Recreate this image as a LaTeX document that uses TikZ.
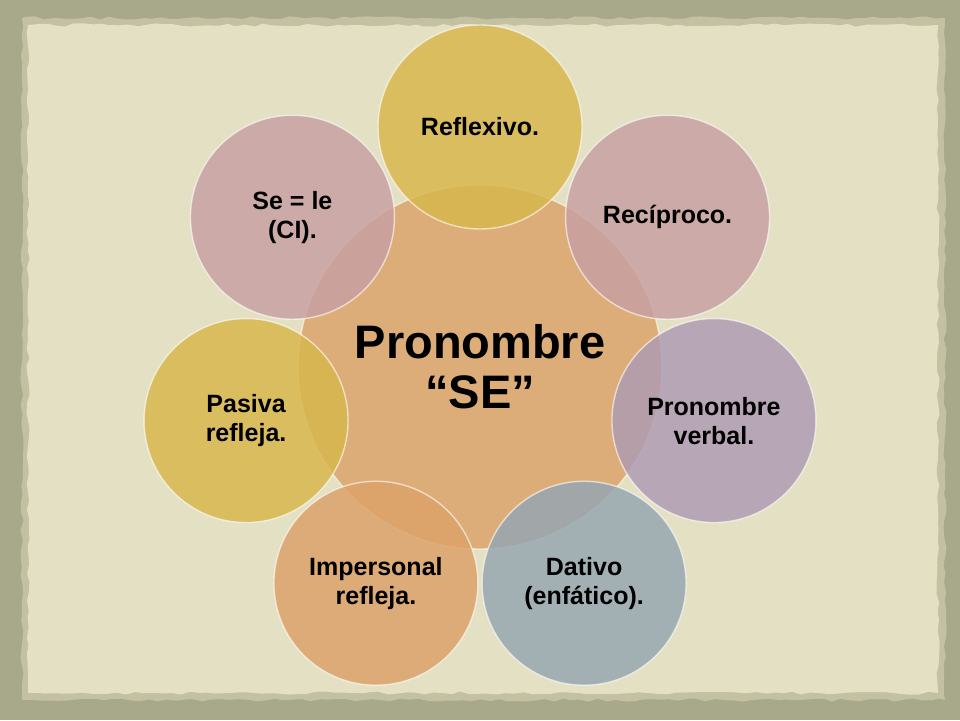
\documentclass[tikz,border=0pt]{standalone}
\usepackage{fontspec}
\setmainfont{Liberation Sans}
\usetikzlibrary{decorations.pathmorphing}

\definecolor{frame}{HTML}{A8A88A}
\definecolor{paper}{HTML}{E3E0C3}
\definecolor{edgeshade}{HTML}{C3C1A2}
\definecolor{coreorange}{HTML}{DCA46C}
\definecolor{gold}{HTML}{D8B74C}
\definecolor{rose}{HTML}{C8A0A2}
\definecolor{lilac}{HTML}{AF9CB3}
\definecolor{slate}{HTML}{96A7B2}
\definecolor{apricot}{HTML}{DCA269}

\begin{document}
\begin{tikzpicture}[x=1pt, y=1pt,
    bubble/.style={circle, minimum size=204pt, inner sep=0pt, align=center,
      fill opacity=0.84, text opacity=1, draw=white, draw opacity=0.6,
      line width=1.4pt, font=\bfseries\fontsize{25}{29}\selectfont},
    hub/.style={bubble, minimum size=364pt, fill=coreorange,
      font=\bfseries\fontsize{47}{50}\selectfont},
    torn/.style={decorate, decoration={random steps, segment length=9pt, amplitude=1.6pt}}
  ]
  \pgfmathsetseed{11}
  % paper on the board
  \fill[frame] (0,0) rectangle (960,720);
  \fill[edgeshade, torn] (22,20) -- (945,20) -- (945,702) -- (22,702) -- cycle;
  \fill[paper, torn] (28,27) -- (938,27) -- (938,695) -- (28,695) -- cycle;
  % hub and its seven cases
  \node[hub] (core) at (480,353) {Pronombre\\“SE”};
  \begin{scope}[shift={(core.center)}]
    \node[bubble, fill=gold]    (refl)   at (90:240)     {Reflexivo.};
    \node[bubble, fill=rose]    (recip)  at (38.6:240)   {Recíproco.};
    \node[bubble, fill=lilac]   (verbal) at (-12.9:240)  {Pronombre\\verbal.};
    \node[bubble, fill=slate]   (dativo) at (-64.3:240)  {Dativo\\(enfático).};
    \node[bubble, fill=apricot] (impers) at (-115.7:240) {Impersonal\\refleja.};
    \node[bubble, fill=gold]    (pasiva) at (-167.1:240) {Pasiva\\refleja.};
    \node[bubble, fill=rose]    (sele)   at (141.4:240)  {Se = le\\(CI).};
  \end{scope}
\end{tikzpicture}
\end{document}
